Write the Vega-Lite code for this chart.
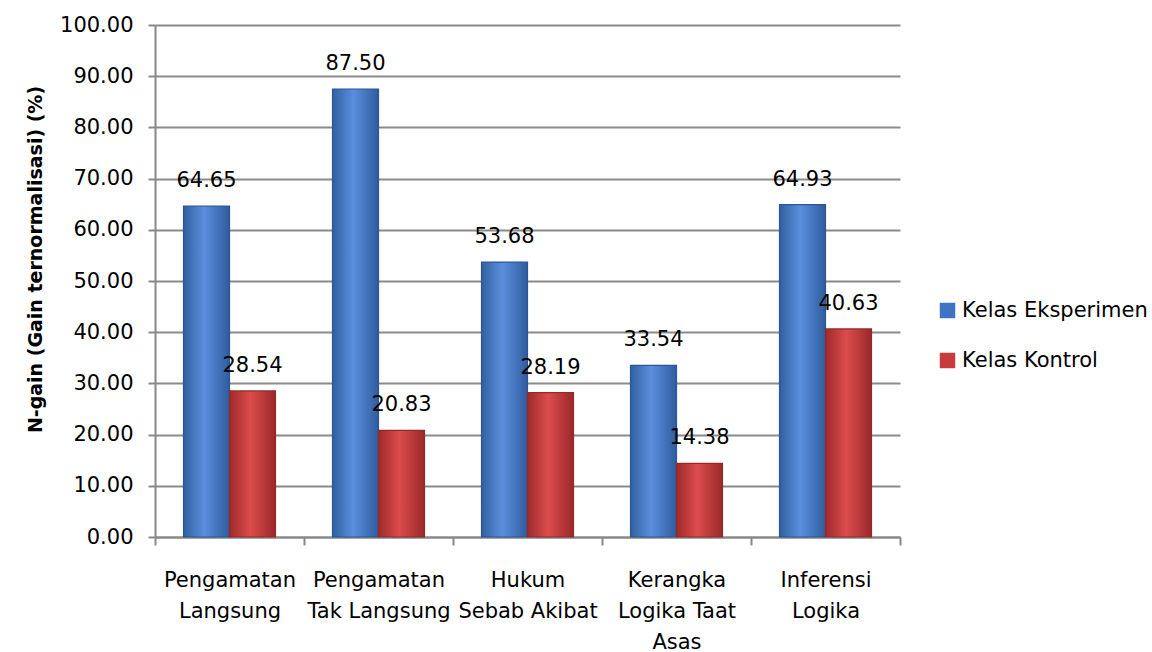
{
  "$schema": "https://vega.github.io/schema/vega-lite/v6.json",
  "width": 745,
  "height": 512,
  "autosize": {"type": "none"},
  "padding": {"left": 155, "top": 25, "right": 252, "bottom": 115},
  "background": "white",
  "config": {
    "font": "DejaVu Sans",
    "view": {"stroke": null}
  },
  "data": {
    "values": [
      {"kategori": "Pengamatan|Langsung", "kelas": "Kelas Eksperimen", "nilai": 64.65},
      {"kategori": "Pengamatan|Langsung", "kelas": "Kelas Kontrol", "nilai": 28.54},
      {"kategori": "Pengamatan|Tak Langsung", "kelas": "Kelas Eksperimen", "nilai": 87.50},
      {"kategori": "Pengamatan|Tak Langsung", "kelas": "Kelas Kontrol", "nilai": 20.83},
      {"kategori": "Hukum|Sebab Akibat", "kelas": "Kelas Eksperimen", "nilai": 53.68},
      {"kategori": "Hukum|Sebab Akibat", "kelas": "Kelas Kontrol", "nilai": 28.19},
      {"kategori": "Kerangka|Logika Taat|Asas", "kelas": "Kelas Eksperimen", "nilai": 33.54},
      {"kategori": "Kerangka|Logika Taat|Asas", "kelas": "Kelas Kontrol", "nilai": 14.38},
      {"kategori": "Inferensi|Logika", "kelas": "Kelas Eksperimen", "nilai": 64.93},
      {"kategori": "Inferensi|Logika", "kelas": "Kelas Kontrol", "nilai": 40.63}
    ]
  },
  "encoding": {
    "x": {
      "field": "kategori",
      "type": "nominal",
      "sort": null,
      "scale": {"paddingInner": 0, "paddingOuter": 0},
      "axis": {
        "title": null,
        "labelAngle": 0,
        "labelExpr": "datum.value == null ? '' : split(datum.value, '|')",
        "labelFontSize": 21,
        "labelColor": "#000000",
        "labelLineHeight": 31,
        "labelPadding": 24,
        "labelBaseline": "top",
        "tickBand": "extent",
        "tickColor": "#888888",
        "tickWidth": 2,
        "tickSize": 8,
        "domainColor": "#888888",
        "domainWidth": 2
      }
    },
    "xOffset": {
      "field": "kelas",
      "type": "nominal",
      "sort": ["Kelas Eksperimen", "Kelas Kontrol"],
      "scale": {"paddingInner": 0, "paddingOuter": 0.62}
    },
    "y": {
      "field": "nilai",
      "type": "quantitative",
      "scale": {"domain": [0, 100], "nice": false},
      "axis": {
        "title": "N-gain (Gain ternormalisasi) (%)",
        "titleFontSize": 19,
        "titleFontWeight": "bold",
        "titleColor": "#000000",
        "titlePadding": 14,
        "titleY": 234,
        "values": [0, 10, 20, 30, 40, 50, 60, 70, 80, 90, 100],
        "format": ".2f",
        "labelFontSize": 21,
        "labelColor": "#000000",
        "labelPadding": 15,
        "tickColor": "#888888",
        "tickWidth": 2,
        "tickSize": 7,
        "domainColor": "#888888",
        "domainWidth": 2,
        "gridColor": "#8a8a8a",
        "gridWidth": 2
      }
    }
  },
  "layer": [
    {
      "mark": {"type": "bar"},
      "encoding": {
        "color": {
          "field": "kelas",
          "type": "nominal",
          "scale": {"domain": ["Kelas Eksperimen", "Kelas Kontrol"], "range": ["#3f73c6", "#c83b3c"]},
          "legend": {
            "title": null,
            "orient": "none",
            "legendX": 782,
            "legendY": 275,
            "symbolType": "square",
            "symbolSize": 240,
            "labelFontSize": 21,
            "labelColor": "#000000",
            "labelLimit": 300,
            "rowPadding": 28,
            "labelOffset": 4
          }
        }
      }
    },
    {
      "transform": [{"filter": "datum.kelas === 'Kelas Eksperimen'"}],
      "mark": {
        "type": "bar",
        "stroke": "#2c5595",
        "strokeWidth": 1.2,
        "fill": {
          "x1": 0, "x2": 1, "y1": 0, "y2": 0,
          "gradient": "linear",
          "stops": [
            {"offset": 0, "color": "#30609f"},
            {"offset": 0.45, "color": "#5a8fde"},
            {"offset": 1, "color": "#2f5c9e"}
          ]
        }
      }
    },
    {
      "transform": [{"filter": "datum.kelas === 'Kelas Kontrol'"}],
      "mark": {
        "type": "bar",
        "stroke": "#922a2b",
        "strokeWidth": 1.2,
        "fill": {
          "x1": 0, "x2": 1, "y1": 0, "y2": 0,
          "gradient": "linear",
          "stops": [
            {"offset": 0, "color": "#9e2a2b"},
            {"offset": 0.45, "color": "#dc4c4c"},
            {"offset": 1, "color": "#9b2829"}
          ]
        }
      }
    },
    {
      "mark": {"type": "text", "baseline": "middle", "dy": -25, "fontSize": 21, "color": "#000000"},
      "encoding": {"text": {"field": "nilai", "type": "quantitative", "format": ".2f"}}
    }
  ]
}
